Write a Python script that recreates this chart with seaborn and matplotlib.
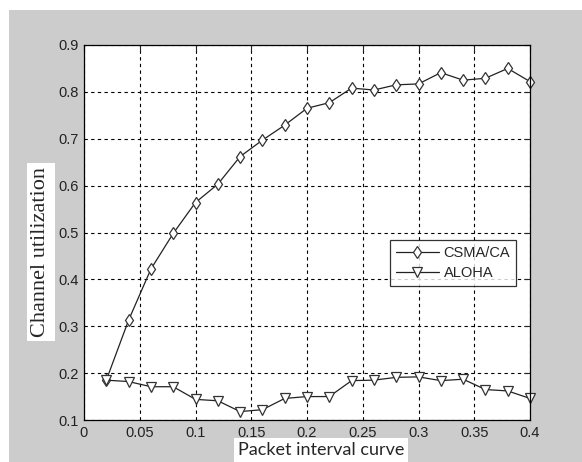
import matplotlib
matplotlib.use('Agg')
import matplotlib.pyplot as plt
from matplotlib.patches import Rectangle
import seaborn as sns
import pandas as pd

# data
interval = [0.02, 0.04, 0.06, 0.08, 0.10, 0.12, 0.14, 0.16, 0.18, 0.20,
            0.22, 0.24, 0.26, 0.28, 0.30, 0.32, 0.34, 0.36, 0.38, 0.40]
csma_ca = [0.185, 0.313, 0.422, 0.498, 0.564, 0.603, 0.662, 0.697, 0.729, 0.765,
           0.777, 0.808, 0.804, 0.815, 0.817, 0.841, 0.825, 0.829, 0.850, 0.822]
aloha = [0.185, 0.182, 0.171, 0.171, 0.144, 0.141, 0.118, 0.122, 0.146, 0.150,
         0.150, 0.184, 0.185, 0.191, 0.192, 0.184, 0.187, 0.165, 0.162, 0.146]
x_ticks = [0, 0.05, 0.1, 0.15, 0.2, 0.25, 0.3, 0.35, 0.4]
x_tick_labels = ['0', '0.05', '0.1', '0.15', '0.2', '0.25', '0.3', '0.35', '0.4']
y_ticks = [0.1, 0.2, 0.3, 0.4, 0.5, 0.6, 0.7, 0.8, 0.9]

df = pd.DataFrame({'interval': interval, 'CSMA/CA': csma_ca, 'ALOHA': aloha})

sns.set_style('white')
plt.rcParams['font.family'] = ['Liberation Sans', 'DejaVu Sans']

W, H = 582, 462
fig = plt.figure(figsize=(W / 100, H / 100), dpi=100, facecolor='white')
# MATLAB-like grey figure panel, kept behind the axes
fig.patches.append(Rectangle((9 / W, 0), 1 - 9 / W, 1 - 10 / H,
                             transform=fig.transFigure, facecolor='#cccccc',
                             edgecolor='none', zorder=-10))

ax = fig.add_axes([84 / W, 1 - 420 / H, (530 - 84) / W, (420 - 45) / H])
ax.set_facecolor('white')

line_kw = dict(ax=ax, color='#222222', lw=0.9, markersize=6.5,
               markerfacecolor='white', markeredgecolor='#333333',
               markeredgewidth=0.9, clip_on=False)
sns.lineplot(data=df, x='interval', y='CSMA/CA', marker='d', label='CSMA/CA', **line_kw)
sns.lineplot(data=df, x='interval', y='ALOHA', marker='v', label='ALOHA', **line_kw)

ax.set_xlim(0, 0.4)
ax.set_ylim(0.1, 0.9)
ax.set_xticks(x_ticks)
ax.set_xticklabels(x_tick_labels)
ax.set_yticks(y_ticks)
ax.set_yticklabels([f'{v:.1f}' for v in y_ticks])
ax.tick_params(direction='in', length=4, width=0.8, top=True, right=True,
               labelsize=10.5, labelcolor='#222222', pad=4)
ax.grid(True, color='black', linestyle=(0, (3, 3)), linewidth=0.8)
for s in ax.spines.values():
    s.set_color('black')
    s.set_linewidth(0.9)
ax.set_xlabel('')
ax.set_ylabel('')

leg = ax.legend(loc='upper right', bbox_to_anchor=(0.969, 0.48), fontsize=10.5,
                frameon=True, fancybox=False, handlelength=3,
                borderpad=0.4, labelspacing=0.4, handletextpad=0.3,
                borderaxespad=0)
leg.get_frame().set_edgecolor('black')
leg.get_frame().set_linewidth(0.9)

fig.text(41 / W, 1 - 252 / H, 'Channel utilization', rotation=90,
         ha='center', va='center', fontsize=16, family='Liberation Serif',
         bbox=dict(facecolor='white', edgecolor='none', pad=3))
fig.text(321 / W, 1 - 450 / H, 'Packet interval curve', ha='center',
         va='center', fontsize=13, family='Lato',
         bbox=dict(facecolor='white', edgecolor='none', pad=3))

fig.savefig('out.png', dpi=100, facecolor='white')
